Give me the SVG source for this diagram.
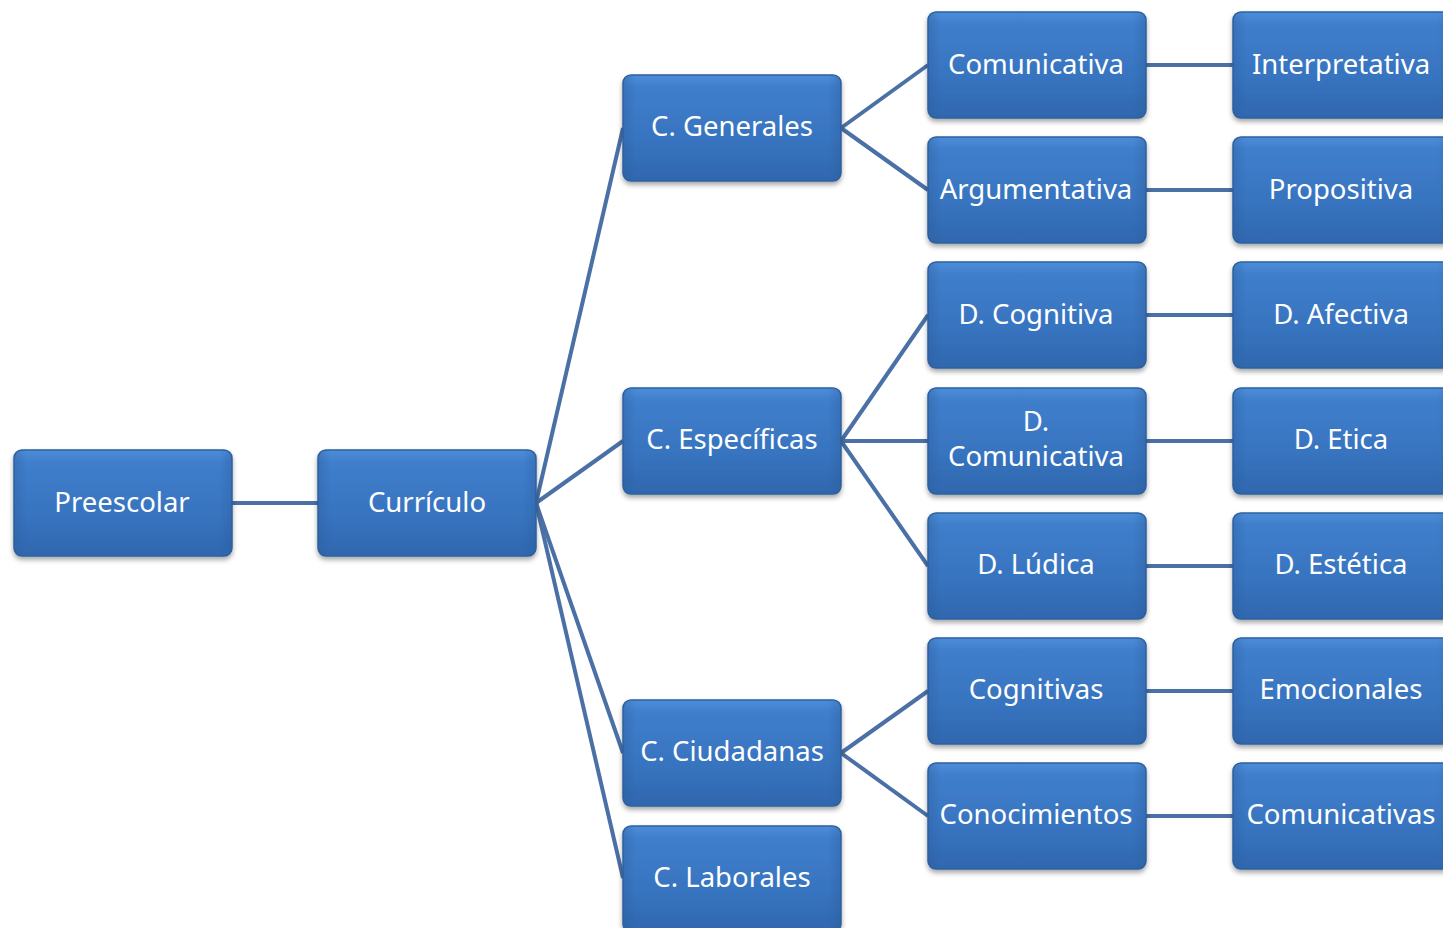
<svg xmlns="http://www.w3.org/2000/svg" width="1443" height="928" viewBox="0 0 1443 928">
<style>
.box{fill:url(#g);stroke:#2f619f;stroke-width:1.5;filter:url(#sh)}
.hl{fill:url(#hl)}
.t{font-family:"Noto Sans","Open Sans","DejaVu Sans",sans-serif;font-size:27.5px;fill:#ffffff;text-anchor:middle}
.c{stroke:#4a70a6;stroke-width:4;fill:none}
</style>
<defs>
<linearGradient id="g" x1="0" y1="0" x2="0" y2="1">
<stop offset="0" stop-color="#4d8dd8"/>
<stop offset="0.12" stop-color="#3f7ecb"/>
<stop offset="0.6" stop-color="#3874c0"/>
<stop offset="1" stop-color="#2f67ae"/>
</linearGradient>
<linearGradient id="hl" x1="0" y1="0" x2="1" y2="0">
<stop offset="0" stop-color="#2a5b98" stop-opacity="0.35"/>
<stop offset="0.06" stop-color="#2a5b98" stop-opacity="0"/>
<stop offset="0.94" stop-color="#2a5b98" stop-opacity="0"/>
<stop offset="1" stop-color="#2a5b98" stop-opacity="0.35"/>
</linearGradient>
<filter id="sh" x="-10%" y="-10%" width="120%" height="130%">
<feGaussianBlur in="SourceAlpha" stdDeviation="2.5"/>
<feOffset dx="0" dy="3" result="b"/>
<feFlood flood-color="#000000" flood-opacity="0.35"/>
<feComposite in2="b" operator="in"/>
<feMerge><feMergeNode/><feMergeNode in="SourceGraphic"/></feMerge>
</filter>
</defs>
<rect width="1443" height="928" fill="#ffffff"/>
<g id="connectors">
<line class="c" x1="232" y1="503" x2="318" y2="503"/>
<line class="c" x1="536" y1="503" x2="623" y2="128"/>
<line class="c" x1="536" y1="503" x2="623" y2="441"/>
<line class="c" x1="536" y1="503" x2="623" y2="753"/>
<line class="c" x1="536" y1="503" x2="623" y2="878"/>
<line class="c" x1="841" y1="128" x2="928" y2="65"/>
<line class="c" x1="841" y1="128" x2="928" y2="190"/>
<line class="c" x1="841" y1="441" x2="928" y2="315"/>
<line class="c" x1="841" y1="441" x2="928" y2="441"/>
<line class="c" x1="841" y1="441" x2="928" y2="566"/>
<line class="c" x1="841" y1="753" x2="928" y2="691"/>
<line class="c" x1="841" y1="753" x2="928" y2="816"/>
<line class="c" x1="1146" y1="65" x2="1233" y2="65"/>
<line class="c" x1="1146" y1="190" x2="1233" y2="190"/>
<line class="c" x1="1146" y1="315" x2="1233" y2="315"/>
<line class="c" x1="1146" y1="441" x2="1233" y2="441"/>
<line class="c" x1="1146" y1="566" x2="1233" y2="566"/>
<line class="c" x1="1146" y1="691" x2="1233" y2="691"/>
<line class="c" x1="1146" y1="816" x2="1233" y2="816"/>
</g>
<g id="preescolar"><rect class="box" x="14" y="450" width="218" height="106" rx="8"/><rect class="hl" x="14" y="450" width="218" height="106" rx="8"/><text class="t" x="122" y="512">Preescolar</text></g>
<g id="curriculo"><rect class="box" x="318" y="450" width="218" height="106" rx="8"/><rect class="hl" x="318" y="450" width="218" height="106" rx="8"/><text class="t" x="427" y="512">Currículo</text></g>
<g id="c-generales"><rect class="box" x="623" y="75" width="218" height="106" rx="8"/><rect class="hl" x="623" y="75" width="218" height="106" rx="8"/><text class="t" x="732" y="136">C. Generales</text></g>
<g id="c-especificas"><rect class="box" x="623" y="388" width="218" height="106" rx="8"/><rect class="hl" x="623" y="388" width="218" height="106" rx="8"/><text class="t" x="732" y="449">C. Específicas</text></g>
<g id="c-ciudadanas"><rect class="box" x="623" y="700" width="218" height="106" rx="8"/><rect class="hl" x="623" y="700" width="218" height="106" rx="8"/><text class="t" x="732" y="761">C. Ciudadanas</text></g>
<g id="c-laborales"><rect class="box" x="623" y="826" width="218" height="106" rx="8"/><rect class="hl" x="623" y="826" width="218" height="106" rx="8"/><text class="t" x="732" y="887">C. Laborales</text></g>
<g id="comunicativa"><rect class="box" x="928" y="12" width="218" height="106" rx="8"/><rect class="hl" x="928" y="12" width="218" height="106" rx="8"/><text class="t" x="1036" y="74">Comunicativa</text></g>
<g id="argumentativa"><rect class="box" x="928" y="137" width="218" height="106" rx="8"/><rect class="hl" x="928" y="137" width="218" height="106" rx="8"/><text class="t" x="1036" y="199">Argumentativa</text></g>
<g id="d-cognitiva"><rect class="box" x="928" y="262" width="218" height="106" rx="8"/><rect class="hl" x="928" y="262" width="218" height="106" rx="8"/><text class="t" x="1036" y="324">D. Cognitiva</text></g>
<g id="d-comunicativa"><rect class="box" x="928" y="388" width="218" height="106" rx="8"/><rect class="hl" x="928" y="388" width="218" height="106" rx="8"/><text class="t" x="1036" y="431">D.</text><text class="t" x="1036" y="466">Comunicativa</text></g>
<g id="d-ludica"><rect class="box" x="928" y="513" width="218" height="106" rx="8"/><rect class="hl" x="928" y="513" width="218" height="106" rx="8"/><text class="t" x="1036" y="574">D. Lúdica</text></g>
<g id="cognitivas"><rect class="box" x="928" y="638" width="218" height="106" rx="8"/><rect class="hl" x="928" y="638" width="218" height="106" rx="8"/><text class="t" x="1036" y="699">Cognitivas</text></g>
<g id="conocimientos"><rect class="box" x="928" y="763" width="218" height="106" rx="8"/><rect class="hl" x="928" y="763" width="218" height="106" rx="8"/><text class="t" x="1036" y="824">Conocimientos</text></g>
<g id="interpretativa"><rect class="box" x="1233" y="12" width="218" height="106" rx="8"/><rect class="hl" x="1233" y="12" width="218" height="106" rx="8"/><text class="t" x="1341" y="74">Interpretativa</text></g>
<g id="propositiva"><rect class="box" x="1233" y="137" width="218" height="106" rx="8"/><rect class="hl" x="1233" y="137" width="218" height="106" rx="8"/><text class="t" x="1341" y="199">Propositiva</text></g>
<g id="d-afectiva"><rect class="box" x="1233" y="262" width="218" height="106" rx="8"/><rect class="hl" x="1233" y="262" width="218" height="106" rx="8"/><text class="t" x="1341" y="324">D. Afectiva</text></g>
<g id="d-etica"><rect class="box" x="1233" y="388" width="218" height="106" rx="8"/><rect class="hl" x="1233" y="388" width="218" height="106" rx="8"/><text class="t" x="1341" y="449">D. Etica</text></g>
<g id="d-estetica"><rect class="box" x="1233" y="513" width="218" height="106" rx="8"/><rect class="hl" x="1233" y="513" width="218" height="106" rx="8"/><text class="t" x="1341" y="574">D. Estética</text></g>
<g id="emocionales"><rect class="box" x="1233" y="638" width="218" height="106" rx="8"/><rect class="hl" x="1233" y="638" width="218" height="106" rx="8"/><text class="t" x="1341" y="699">Emocionales</text></g>
<g id="comunicativas"><rect class="box" x="1233" y="763" width="218" height="106" rx="8"/><rect class="hl" x="1233" y="763" width="218" height="106" rx="8"/><text class="t" x="1341" y="824">Comunicativas</text></g>
</svg>
